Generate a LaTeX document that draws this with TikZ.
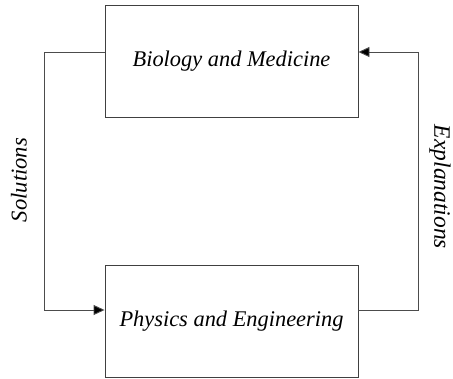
\documentclass[tikz,border=0pt]{standalone}
\usepackage{fontspec}
\setmainfont{Liberation Serif}
\usetikzlibrary{arrows.meta}
\begin{document}
\begin{tikzpicture}[x=1pt,y=-1pt,
  field/.style={draw=black!75, line width=0.9pt, minimum width=253pt, minimum height=112pt,
    inner sep=0pt, font=\fontsize{22.4}{26}\selectfont\itshape},
  link/.style={draw=black!70, line width=0.9pt, -{Triangle[length=11pt,width=10pt,fill=black]}},
  tag/.style={inner sep=0pt}]
  \useasboundingbox (0,0) rectangle (453,378);
  \node[field] (bio) at (231.5,61) {Biology and Medicine};
  \node[field] (phy) at (231.5,321.5) {Physics and Engineering};
  \coordinate (lt) at (44,52);
  \coordinate (lb) at (44,310);
  \coordinate (rb) at (418,310);
  \coordinate (rt) at (418,52);
  \draw[link] (bio.west |- lt) -- (lt) -- (lb) -- (phy.west |- lb);
  \draw[link] (phy.east |- rb) -- (rb) -- (rt) -- (bio.east |- rt);
  \node[tag, rotate=90, font=\fontsize{22.6}{26}\selectfont\itshape] (sol) at (19,180) {Solutions};
  \node[tag, rotate=-90, font=\fontsize{23.5}{27}\selectfont\itshape] (exp) at (440,187) {Explanations};
\end{tikzpicture}
\end{document}
